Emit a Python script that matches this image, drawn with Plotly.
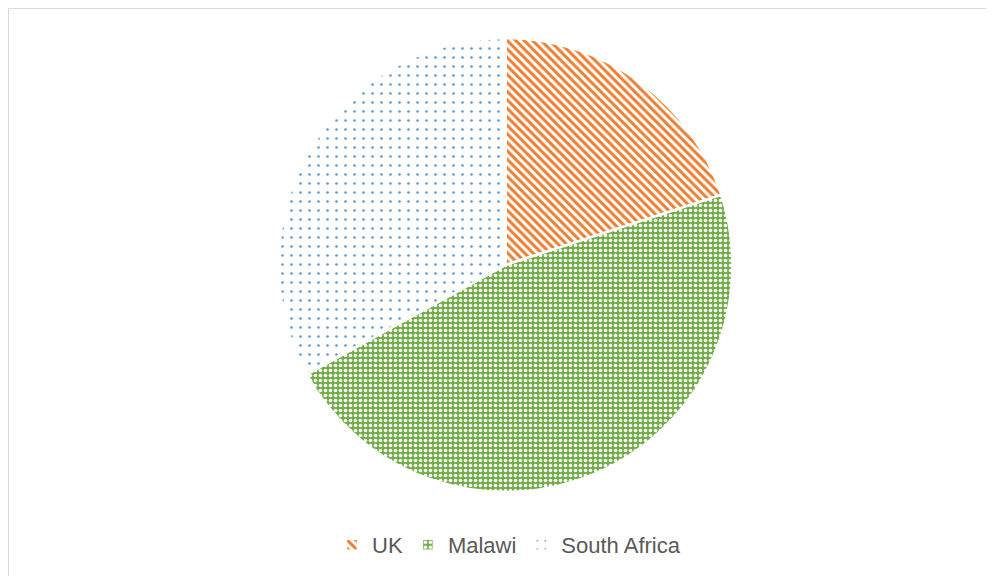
import plotly.graph_objects as go

labels = ["UK", "Malawi", "South Africa"]
values = [20, 47, 33]
colors = ["#ED7D31", "#70AD47", "#5B9BD5"]

W, H = 994, 576
OX, OY = 8, 8  # page offset of the figure


def px_x(x):
    return (x - OX) / W


def px_y(y):
    return 1 - (y - OY) / H


fig = go.Figure()
fig.add_trace(go.Pie(
    labels=labels,
    values=values,
    sort=False,
    direction="clockwise",
    rotation=0,
    textinfo="none",
    hoverinfo="label+value+percent",
    domain=dict(x=[px_x(278), px_x(733)], y=[px_y(492), px_y(38)]),
    marker=dict(
        colors=["white", colors[1], "white"],
        line=dict(color="white", width=2.5),
        pattern=dict(
            shape=["\\", ".", "."],
            fgcolor=[colors[0], "white", colors[2]],
            bgcolor=["white", colors[1], "white"],
            fgopacity=1,
            size=[6, 5, 9],
            solidity=[0.5, 0.4, 0.07],
            fillmode="replace",
        ),
    ),
))

fig.update_layout(
    width=W, height=H,
    margin=dict(l=0, r=0, t=0, b=0),
    paper_bgcolor="white",
    plot_bgcolor="white",
    font=dict(family="Liberation Sans, Arial, sans-serif", color="#595959"),
    showlegend=True,
    legend=dict(
        orientation="h",
        x=px_x(509), xanchor="center",
        y=px_y(545), yanchor="middle",
        font=dict(size=22, color="#595959"),
        traceorder="normal",
    ),
    shapes=[
        dict(type="rect", xref="paper", yref="paper",
             x0=0.5 / W, x1=px_x(993), y0=-0.05, y1=1 - 0.5 / H,
             line=dict(color="#D9D9D9", width=1), fillcolor="rgba(0,0,0,0)",
             layer="below"),
    ],
)

fig.write_html("out.html")
